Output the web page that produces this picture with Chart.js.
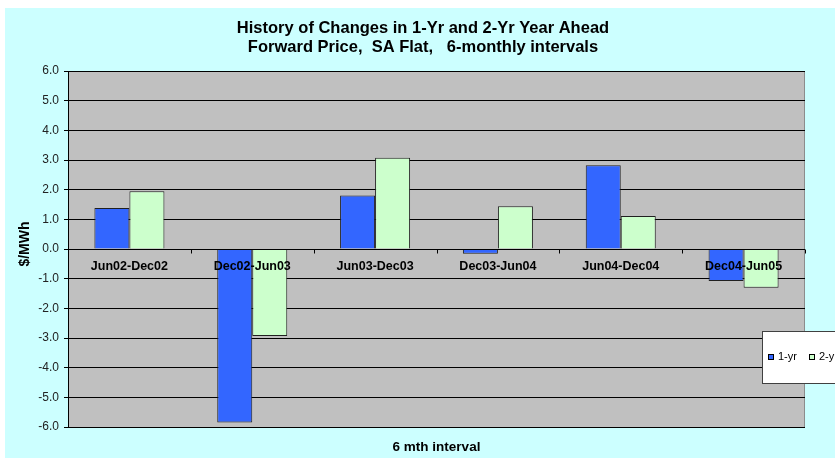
<!DOCTYPE html>
<html>
<head>
<meta charset="utf-8">
<script src="https://cdn.jsdelivr.net/npm/chart.js@4.4.1/dist/chart.umd.min.js"></script>
<style>
  html, body { margin: 0; padding: 0; background: #fff; }
  #wrap { position: absolute; left: 5px; top: 8px; width: 830px; height: 450px; background: #ccffff; }
</style>
</head>
<body>
<div id="wrap"><canvas id="chart" width="830" height="450"></canvas></div>
<script>
'use strict';
const FONT = '"Liberation Sans", Arial, sans-serif';

const TITLE_LINES = ['History of Changes in 1-Yr and 2-Yr Year Ahead', 'Forward Price,  SA Flat,   6-monthly intervals'];
const Y_TITLE = '$/MWh';
const X_TITLE = '6 mth interval';

const intervals = ['Jun02-Dec02', 'Dec02-Jun03', 'Jun03-Dec03', 'Dec03-Jun04', 'Jun04-Dec04', 'Dec04-Jun05'];
const oneYr = [1.38, -5.85, 1.80, -0.16, 2.82, -1.08];
const twoYr = [1.95, -2.93, 3.08, 1.44, 1.11, -1.31];

// gray plot background + outline
const plotBg = {
  id: 'plotBg',
  beforeDraw(chart) {
    const { ctx, chartArea: a } = chart;
    ctx.save();
    ctx.fillStyle = '#c0c0c0';
    ctx.fillRect(a.left, a.top, a.right - a.left, a.bottom - a.top);
    ctx.strokeStyle = '#8c8c8c';
    ctx.lineWidth = 1;
    ctx.strokeRect(a.left + 0.5, a.top + 0.5, a.right - a.left - 1, a.bottom - a.top);
    ctx.restore();
  }
};

// category axis sits on the zero line, labels drawn just under it
const catAxis = {
  id: 'catAxis',
  afterDatasetsDraw(chart) {
    const { ctx, chartArea: a, scales: { x, y } } = chart;
    const y0 = Math.round(y.getPixelForValue(0)) + 0.5;
    const step = x.getPixelForValue(1) - x.getPixelForValue(0);
    ctx.save();
    ctx.strokeStyle = '#000';
    ctx.lineWidth = 1;
    ctx.beginPath();
    ctx.moveTo(a.left, y0);
    ctx.lineTo(a.right, y0);
    for (let i = 0; i <= intervals.length; i++) {
      const bx = Math.round(x.getPixelForValue(i) - step / 2) + 0.5;
      ctx.moveTo(bx, y0);
      ctx.lineTo(bx, y0 + 4);
    }
    ctx.stroke();
    ctx.fillStyle = '#000';
    ctx.font = 'bold 12.5px ' + FONT;
    ctx.textAlign = 'center';
    ctx.textBaseline = 'middle';
    intervals.forEach((lbl, i) => ctx.fillText(lbl, x.getPixelForValue(i), y0 + 17));

    // legend box, runs off the right edge
    const lx = 757, ly = 323, lh = 52;
    ctx.fillStyle = '#fff';
    ctx.fillRect(lx, ly, chart.width - lx + 5, lh);
    ctx.strokeStyle = '#404040';
    ctx.strokeRect(lx + 0.5, ly + 0.5, chart.width - lx + 5, lh);
    ctx.font = '11px ' + FONT;
    ctx.textAlign = 'left';
    const cy = ly + lh / 2;
    let px = lx + 6;
    chart.data.datasets.forEach(ds => {
      ctx.fillStyle = ds.backgroundColor;
      ctx.fillRect(px, cy - 3, 6, 6);
      ctx.strokeStyle = '#000';
      ctx.strokeRect(px + 0.5, cy - 2.5, 5, 5);
      ctx.fillStyle = '#000';
      ctx.fillText(ds.label, px + 10, cy);
      px += 41;
    });
    ctx.restore();
  }
};

const texts = {
  id: 'texts',
  afterDraw(chart) {
    const { ctx, chartArea: a } = chart;
    ctx.save();
    ctx.fillStyle = '#000';
    ctx.textAlign = 'center';
    ctx.textBaseline = 'middle';
    ctx.font = 'bold 16.5px ' + FONT;
    TITLE_LINES.forEach((t, i) => ctx.fillText(t, 418, 20 + i * 19));
    ctx.font = 'bold 13.5px ' + FONT;
    ctx.fillText(X_TITLE, (a.left + a.right) / 2, 439);
    ctx.translate(20, 236);
    ctx.rotate(-Math.PI / 2);
    ctx.font = 'bold 14px ' + FONT;
    ctx.fillText(Y_TITLE, 0, 0);
    ctx.restore();
  }
};

new Chart(document.getElementById('chart'), {
  type: 'bar',
  data: {
    labels: intervals,
    datasets: [
      { label: '1-yr', data: oneYr, backgroundColor: '#3366ff', borderColor: '#202020', borderWidth: 1 },
      { label: '2-yr', data: twoYr, backgroundColor: '#ccffcc', borderColor: '#202020', borderWidth: 1 },
    ],
  },
  options: {
    responsive: false,
    animation: false,
    events: [],
    categoryPercentage: 0.57,
    barPercentage: 1,
    layout: { padding: { top: 63, bottom: 31, right: 30, left: 0 } },
    plugins: { legend: { display: false }, title: { display: false }, tooltip: { enabled: false } },
    scales: {
      x: {
        ticks: { display: false },
        grid: { display: false },
        border: { display: false },
        afterFit: s => { s.height = 0; },
      },
      y: {
        min: -6, max: 6,
        ticks: { stepSize: 1, padding: 5, color: '#222', font: { family: FONT, size: 12 }, callback: v => v.toFixed(1) },
        grid: { color: '#000', lineWidth: 1, tickLength: 4 },
        border: { color: '#000' },
        afterFit: s => { s.width = 63; },
      },
    },
  },
  plugins: [plotBg, catAxis, texts],
});
</script>
</body>
</html>
